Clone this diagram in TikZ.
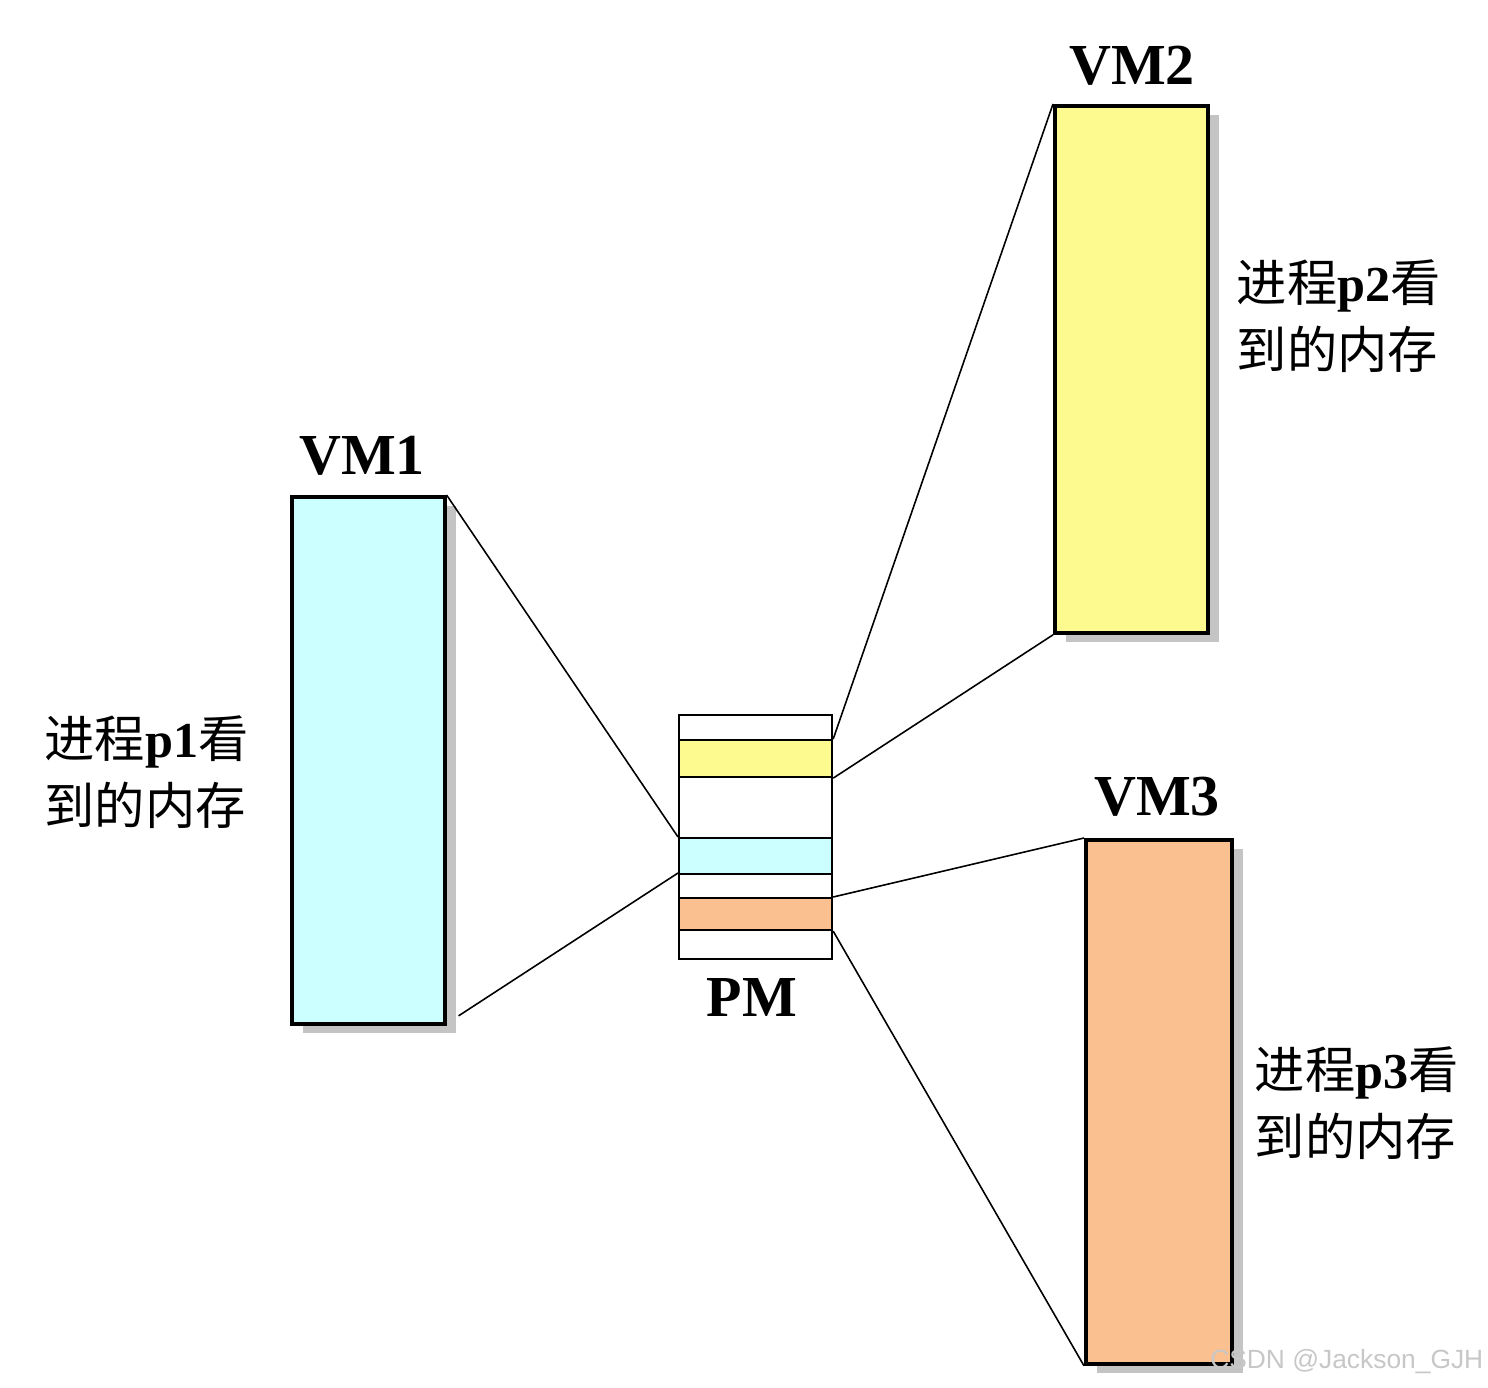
\documentclass[tikz,border=0pt]{standalone}
\usepackage{fontspec}
\setmainfont{Liberation Serif}
\newfontfamily\cjk{Noto Sans CJK SC}
\newfontfamily\wmfont{Liberation Sans}
\usetikzlibrary{calc}
\definecolor{vmcyan}{HTML}{CCFFFF}
\definecolor{vmyellow}{HTML}{FDFB8F}
\definecolor{vmorange}{HTML}{FAC090}
\definecolor{shadowgray}{HTML}{C4C4C4}
\tikzset{
  vmbox/.style={draw=black, line width=1pt, anchor=north west, inner sep=0pt, minimum width=1.53cm, minimum height=5.27cm},
  shadowbox/.style={fill=shadowgray, draw=none, anchor=north west, inner sep=0pt, minimum width=1.53cm, minimum height=5.27cm},
  seg/.style={draw=black, line width=0.6pt, anchor=north west, inner sep=0pt, minimum width=1.53cm, fill=white},
  conn/.style={draw=black, line width=0.45pt},
  vmlabel/.style={font=\fontsize{16.5}{18}\selectfont\bfseries, inner sep=0pt},
  desc/.style={font=\fontsize{14.3}{19}\selectfont, align=left, inner sep=0pt},
}
\newcommand{\pee}[1]{{\rmfamily\bfseries #1}}
\begin{document}
\begin{tikzpicture}[x=0.01cm, y=-0.01cm]
\useasboundingbox (0,0) rectangle (1488,1388);
% shadows
\node[shadowbox] (s1) at (302,505) {};
\node[shadowbox] (s2) at (1065,114) {};
\node[shadowbox, minimum width=1.46cm, minimum height=5.24cm] (s3) at (1096,848) {};
% VM boxes
\node[vmbox, fill=vmcyan] (vm1) at (290,495) {};
\node[vmbox, fill=vmyellow] (vm2) at (1053,104) {};
\node[vmbox, fill=vmorange, minimum width=1.46cm, minimum height=5.24cm] (vm3) at (1084,838) {};
% labels
\node[vmlabel] (l1) at (362,456) {VM1};
\node[vmlabel] (l2) at (1132,66) {VM2};
\node[vmlabel] (l3) at (1157,797) {VM3};
% PM segments
\node[seg, minimum height=0.25cm] (p1) at (678,714) {};
\node[seg, minimum height=0.37cm, fill=vmyellow] (p2) at (678,739) {};
\node[seg, minimum height=0.61cm] (p3) at (678,776) {};
\node[seg, minimum height=0.36cm, fill=vmcyan] (p4) at (678,837) {};
\node[seg, minimum height=0.24cm] (p5) at (678,873) {};
\node[seg, minimum height=0.32cm, fill=vmorange] (p6) at (678,897) {};
\node[seg, minimum height=0.29cm] (p7) at (678,929) {};
\node[vmlabel] (lpm) at (752,997) {PM};
% connectors
\coordinate (v1b) at ($(vm1.south east)+(12,-10)$);
\draw[conn] (vm1.north east) -- (p4.north west);
\draw[conn] (v1b) -- (p5.north west);
\draw[conn] (vm2.north west) -- (p2.north east);
\draw[conn] (vm2.south west) -- (p2.south east);
\draw[conn] (vm3.north west) -- (p6.north east);
\draw[conn] (vm3.south west) -- (p6.south east);
% descriptions
\node[desc, anchor=west] (d1) at (44,772) {\cjk 进程\pee{p1}看\\\cjk 到的内存};
\node[desc, anchor=west] (d2) at (1236,316) {\cjk 进程\pee{p2}看\\\cjk 到的内存};
\node[desc, anchor=west] (d3) at (1254,1103) {\cjk 进程\pee{p3}看\\\cjk 到的内存};
% watermark
\node[font=\wmfont\fontsize{7.5}{9}\selectfont, text=black!22, anchor=east, inner sep=0pt] (wm) at (1484,1362) {CSDN @Jackson\_GJH};
\end{tikzpicture}
\end{document}
